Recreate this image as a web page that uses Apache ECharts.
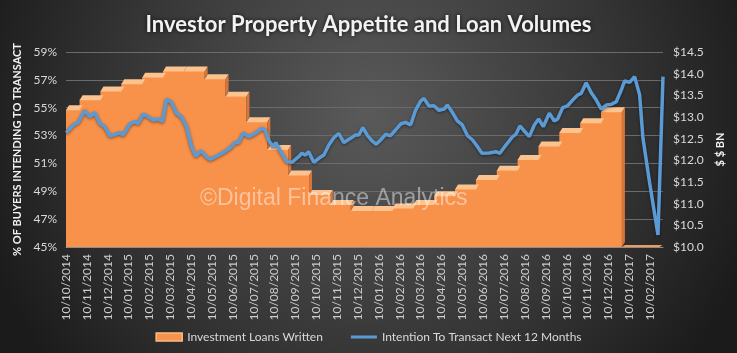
<!DOCTYPE html>
<html lang="en" style="width: 100%; height: 100%">
<head>
  <meta charset="utf-8">
</head>
<body style="margin: 0; width: 737px; height: 353px">
  <div id="container" style="width: 737px; height: 353px"></div>

  <script type="text/javascript" src="https://cdn.jsdelivr.net/npm/echarts@6/dist/echarts.min.js"></script>

  <script type="text/javascript">

var dom = document.getElementById('container');
var myChart = echarts.init(dom, null, { renderer: 'canvas' });

// x axis: one tick per month, labels as on the original
var monthLabels = [
  '10/10/2014', '10/11/2014', '10/12/2014',
  '10/01/2015', '10/02/2015', '10/03/2015', '10/04/2015', '10/05/2015', '10/06/2015',
  '10/07/2015', '10/08/2015', '10/09/2015', '10/10/2015', '10/11/2015', '10/12/2015',
  '10/01/2016', '10/02/2016', '10/03/2016', '10/04/2016', '10/05/2016', '10/06/2016',
  '10/07/2016', '10/08/2016', '10/09/2016', '10/10/2016', '10/11/2016', '10/12/2016',
  '10/01/2017', '10/02/2017'
];

// investment loans written, $ BN, one value per month (Oct 2014 .. Dec 2016)
var loanValues = [
  13.17, 13.40, 13.60,
  13.77, 13.92, 14.06, 14.06, 13.88, 13.48, 12.89, 12.25, 11.66, 11.21, 10.98, 10.84,
  10.84, 10.90, 10.98, 11.18, 11.34, 11.56, 11.77, 12.02, 12.33, 12.64, 12.87, 13.12
];

// intention to transact next 12 months, % (position in months from 10/10/2014, value)
var intention = [
  [0.01, 53.2], [0.34, 53.76], [0.58, 53.95], [0.90, 54.79], [1.14, 54.35], [1.38, 54.64],
  [1.62, 53.88], [1.86, 53.64], [2.10, 52.97], [2.34, 53.09], [2.58, 53.2], [2.74, 53.04],
  [3.06, 53.83], [3.30, 54.0], [3.46, 53.88], [3.70, 54.55], [3.94, 54.35], [4.18, 54.12],
  [4.42, 54.19], [4.62, 54.0], [4.82, 55.6], [5.06, 55.39], [5.30, 54.6], [5.54, 54.35],
  [5.78, 53.64], [6.02, 52.2], [6.22, 51.53], [6.48, 51.9], [6.75, 51.45], [6.91, 51.29],
  [7.23, 51.53], [7.55, 51.8], [7.87, 52.13], [8.11, 52.51], [8.27, 52.51], [8.51, 53.2],
  [8.75, 52.92], [9.07, 53.16], [9.39, 53.52], [9.55, 53.4], [9.75, 52.56], [9.95, 52.2],
  [10.06, 52.49], [10.27, 51.89], [10.59, 51.12], [10.83, 51.08], [11.15, 51.48], [11.31, 51.73],
  [11.48, 51.6], [11.63, 51.84], [11.88, 51.08], [12.12, 51.37], [12.36, 51.6], [12.60, 52.32],
  [12.84, 52.85], [13.08, 53.15], [13.32, 52.5], [13.64, 52.8], [13.88, 53.04], [14.04, 53.04],
  [14.23, 53.57], [14.44, 53.04], [14.68, 52.61], [14.87, 52.37], [15.08, 52.68], [15.32, 53.09],
  [15.56, 52.99], [15.80, 53.4], [16.04, 53.83], [16.28, 53.95], [16.52, 53.76], [16.76, 54.83],
  [17.00, 55.48], [17.16, 55.67], [17.40, 55.12], [17.64, 55.14], [17.88, 54.81], [18.13, 54.9],
  [18.28, 55.19], [18.52, 54.67], [18.76, 54.05], [19.00, 53.76], [19.25, 52.99], [19.49, 52.68],
  [19.73, 52.2], [19.94, 51.73], [20.29, 51.75], [20.61, 51.84], [20.80, 51.73], [21.09, 52.32],
  [21.41, 52.92], [21.57, 53.09], [21.76, 53.69], [21.97, 53.33], [22.21, 52.92], [22.45, 53.76],
  [22.66, 54.19], [22.88, 53.64], [23.17, 54.6], [23.41, 54.05], [23.57, 54.19], [23.81, 55.0],
  [24.05, 55.14], [24.29, 55.55], [24.53, 55.91], [24.70, 56.03], [24.94, 56.79], [25.18, 56.07],
  [25.42, 55.55], [25.66, 54.9], [25.90, 55.19], [26.14, 55.24], [26.38, 55.43], [26.62, 56.27],
  [26.78, 56.92], [27.02, 56.82], [27.26, 57.23], [27.50, 55.91], [27.66, 52.8], [27.98, 49.6],
  [28.38, 45.86], [28.62, 57.23]
];

var xMax = 28.62;
var stepOffset = 0.65;   // loan steps change at the start of each month
var loanFloor = 10;      // value of the empty months after Dec 2016 (axis minimum)

// month blocks: [start, end, value, next value]
var blocks = [];
loanValues.forEach(function (v, k) {
  var start = k === 0 ? 0 : k - 1 + stepOffset;
  var end = k + stepOffset;
  var next = k + 1 < loanValues.length ? loanValues[k + 1] : loanFloor;
  blocks.push([start, end, v, next]);
});
blocks.push([loanValues.length - 1 + stepOffset, 28.45, loanFloor, loanFloor]);

// the filled area, as a step line with no stroke
var loanArea = blocks.map(function (b) { return [b[0], b[2]]; });
loanArea.push([blocks[blocks.length - 1][1], loanFloor]);

var labelFont = 'Lato, "Open Sans", sans-serif';

function renderTop(params, api) {
  var a = api.coord([api.value(0), api.value(2)]);
  var b = api.coord([api.value(1), api.value(2)]);
  var n = api.coord([api.value(1), api.value(3)]);
  var flat = api.value(2) <= loanFloor;
  var dx = 3, dy = flat ? 2 : 5;
  var base = a[1] + (flat ? 0 : 0.5);
  var children = [{
    type: 'polygon',
    shape: { points: [[a[0], base], [b[0], base], [b[0] + dx, base - dy], [a[0] + dx, base - dy]] },
    style: { fill: flat ? '#f29a5c' : '#fcc38f' }
  }];
  if (n[1] > a[1]) {
    // side face where the next month is lower
    children.push({
      type: 'polygon',
      shape: { points: [[b[0], base], [b[0] + dx, base - dy], [b[0] + dx, n[1] - dy], [b[0], n[1]]] },
      style: { fill: '#d7743a' }
    });
  }
  return { type: 'group', children: children };
}

var option = {
  backgroundColor: new echarts.graphic.RadialGradient(0.5, 0.32, 1.15, [
    { offset: 0, color: '#5a5a5a' },
    { offset: 0.6, color: '#363636' },
    { offset: 1, color: '#1b1b1b' }
  ]),
  animation: false,
  title: {
    text: 'Investor Property Appetite and Loan Volumes',
    left: 'center',
    top: 9,
    textStyle: {
      color: '#f2f2f2',
      fontSize: 22,
      fontWeight: 'bold',
      fontFamily: labelFont,
      textShadowColor: 'rgba(0,0,0,0.8)',
      textShadowBlur: 4
    }
  },
  legend: {
    left: 'center',
    top: 326,
    itemGap: 28,
    itemWidth: 26,
    itemHeight: 8,
    textStyle: { color: '#d9d9d9', fontSize: 12, fontFamily: labelFont },
    data: [
      { name: 'Investment Loans Written', icon: 'rect', itemStyle: { color: '#f7924c', borderColor: '#fdbb85', borderWidth: 1.5 } },
      { name: 'Intention To Transact Next 12 Months', icon: 'path://M0,0h26v3h-26z' }
    ]
  },
  graphic: [{
    type: 'text',
    left: 200,
    top: 187,
    z: 100,
    silent: true,
    style: {
      text: '\u00a9Digital Finance Analytics',
      fill: 'rgba(255,255,255,0.45)',
      font: '23px "Liberation Sans", Arial, sans-serif'
    }
  }],
  grid: {
    left: 66,
    right: 74,
    top: 52,
    bottom: 106
  },
  xAxis: {
    type: 'value',
    min: 0,
    max: xMax,
    interval: 1,
    axisLine: { show: true, lineStyle: { color: '#8c8c8c', width: 1 } },
    axisTick: { show: false },
    splitLine: { show: false },
    axisLabel: {
      rotate: 90,
      margin: 7,
      color: '#cccccc',
      fontSize: 12,
      fontFamily: labelFont,
      showMaxLabel: false,
      formatter: function (v) {
        return Number.isInteger(v) && monthLabels[v] ? monthLabels[v] : '';
      }
    }
  },
  yAxis: [{
    type: 'value',
    min: 45,
    max: 59,
    interval: 2,
    name: '% OF BUYERS INTENDING TO TRANSACT',
    nameLocation: 'middle',
    nameGap: 34,
    nameRotate: 90,
    nameTextStyle: { color: '#f2f2f2', fontSize: 11, fontWeight: 'bold', fontFamily: labelFont },
    axisLine: { show: false },
    axisTick: { show: false },
    axisLabel: {
      color: '#d9d9d9',
      fontSize: 12,
      fontFamily: labelFont,
      margin: 9,
      formatter: function (v) { return v + '%'; }
    },
    splitLine: { lineStyle: { color: '#6b6b6b', width: 1 } }
  }, {
    type: 'value',
    min: 10,
    max: 14.5,
    interval: 0.5,
    position: 'right',
    name: '$ $ BN',
    nameLocation: 'middle',
    nameGap: 43,
    nameRotate: 90,
    nameTextStyle: { color: '#f2f2f2', fontSize: 11, fontWeight: 'bold', fontFamily: labelFont },
    axisLine: { show: false },
    axisTick: { show: false },
    axisLabel: {
      color: '#d9d9d9',
      fontSize: 12,
      fontFamily: labelFont,
      margin: 10,
      formatter: function (v) { return '$' + v.toFixed(1); }
    },
    splitLine: { show: false }
  }],
  series: [{
    name: 'Investment Loans Written',
    type: 'line',
    yAxisIndex: 1,
    step: 'end',
    symbol: 'none',
    data: loanArea,
    lineStyle: { width: 0 },
    itemStyle: { color: '#f7924c' },
    areaStyle: {
      origin: 'start',
      color: '#f8914a',
      opacity: 1
    },
    z: 2
  }, {
    name: 'Investment Loans Written',
    type: 'custom',
    yAxisIndex: 1,
    renderItem: renderTop,
    encode: { x: [0, 1], y: 2 },
    data: blocks,
    z: 2
  }, {
    name: 'Intention To Transact Next 12 Months',
    type: 'line',
    yAxisIndex: 0,
    symbol: 'none',
    data: intention,
    lineStyle: {
      color: '#5b9bd5',
      width: 3.5,
      shadowColor: 'rgba(0,0,0,0.45)',
      shadowBlur: 3,
      shadowOffsetY: 1
    },
    itemStyle: { color: '#5b9bd5' },
    z: 3
  }]
};

myChart.setOption(option);

  </script>
</body>
</html>
